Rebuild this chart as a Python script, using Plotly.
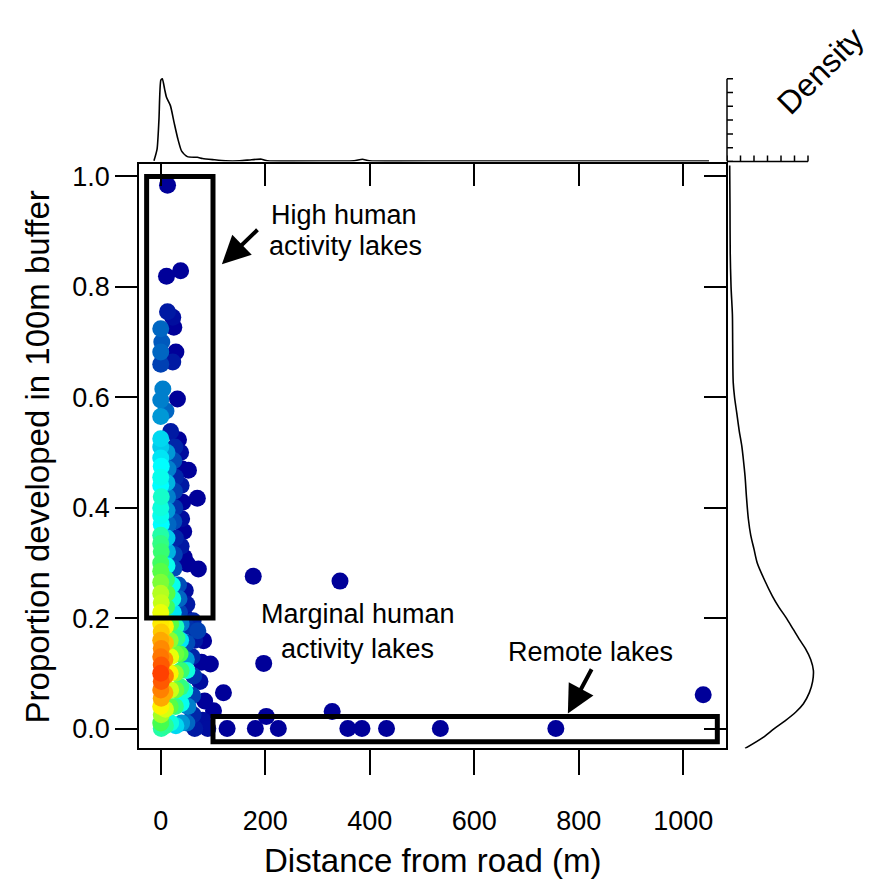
import numpy as np
import plotly.graph_objects as go

# ---------------- data ----------------
# main scatter: distance from road (m), proportion developed, colour density level (0..1)
dist_m = [
    13, 11, 38, 13, 23, 25, 0, 2, 0, 29, 23, 0, 4, 32, 0, 0, 10, 19, 34, 0, 53, 70,
    0, 0, 1, 0, 0, 1, 0, 0, 1, 0, 0, 1, 0, 0,
    12, 14, 12, 13, 12, 14, 12, 13, 12,
    27, 25, 28, 26, 27, 25, 28, 26, 25,
    38, 41, 39, 42, 40, 44, 39, 45, 51, 72,
    0, 0, 1, 0, 11, 12, 11, 22, 23, 24, 34, 35, 36, 47, 50, 45,
    0, 1, 0, 1, 0, 1, 0, 1, 0, 1, 0, 1, 0, 1,
    9, 9, 8, 9, 8, 9, 9,
    19, 18, 19, 18, 19, 18, 19,
    29, 31, 29, 28, 29, 28, 29,
    39, 38, 37, 39, 38, 39, 40,
    49, 50, 49, 50, 46, 52, 50,
    62, 65, 60, 63, 61, 62, 65,
    71, 82, 78, 95, 75, 84, 80, 101, 120, 90,
    127, 181, 202, 225, 328, 358, 385, 432, 535, 756, 1038, 177, 343, 197,
]
prop_dev = [
    0.984, 0.819, 0.829, 0.755, 0.745, 0.727, 0.724, 0.700, 0.682, 0.682, 0.664, 0.660, 0.615, 0.597, 0.595, 0.565, 0.575, 0.538, 0.523, 0.525, 0.468, 0.417,
    0.510, 0.490, 0.475, 0.455, 0.440, 0.420, 0.400, 0.385, 0.370, 0.350, 0.335, 0.320, 0.300, 0.285,
    0.500, 0.470, 0.445, 0.420, 0.395, 0.370, 0.345, 0.320, 0.295,
    0.510, 0.485, 0.455, 0.430, 0.400, 0.375, 0.345, 0.315, 0.290,
    0.500, 0.470, 0.440, 0.410, 0.380, 0.357, 0.330, 0.310, 0.298, 0.289,
    0.265, 0.245, 0.228, 0.210, 0.270, 0.245, 0.220, 0.260, 0.235, 0.210, 0.260, 0.235, 0.210, 0.250, 0.225, 0.205,
    0.190, 0.175, 0.160, 0.145, 0.130, 0.115, 0.100, 0.085, 0.070, 0.055, 0.040, 0.025, 0.010, 0.000,
    0.185, 0.155, 0.125, 0.095, 0.065, 0.035, 0.005,
    0.190, 0.160, 0.130, 0.100, 0.070, 0.040, 0.010,
    0.185, 0.164, 0.135, 0.100, 0.070, 0.040, 0.005,
    0.190, 0.160, 0.135, 0.105, 0.075, 0.045, 0.010,
    0.185, 0.155, 0.125, 0.105, 0.069, 0.040, 0.010,
    0.195, 0.160, 0.130, 0.095, 0.060, 0.025, 0.000,
    0.177, 0.159, 0.120, 0.117, 0.085, 0.050, 0.015, 0.032, 0.065, 0.000,
    0.000, 0.000, 0.022, 0.000, 0.031, 0.000, 0.000, 0.000, 0.000, 0.000, 0.061, 0.276, 0.267, 0.118,
]
dens_level = [
    0.0, 0.0, 0.0, 0.02, 0.01, 0.0, 0.08, 0.07, 0.08, 0.0, 0.02, 0.05, 0.10, 0.0, 0.10, 0.12, 0.08, 0.02, 0.0, 0.17, 0.0, 0.0,
    0.16, 0.18, 0.20, 0.22, 0.20, 0.26, 0.24, 0.22, 0.20, 0.30, 0.34, 0.36, 0.38, 0.42,
    0.12, 0.10, 0.14, 0.10, 0.12, 0.08, 0.16, 0.14, 0.22,
    0.03, 0.06, 0.03, 0.05, 0.04, 0.06, 0.03, 0.05, 0.06,
    0.01, 0.0, 0.02, 0.0, 0.01, 0.0, 0.02, 0.0, 0.0, 0.0,
    0.46, 0.52, 0.54, 0.58, 0.36, 0.42, 0.38, 0.22, 0.24, 0.18, 0.06, 0.08, 0.05, 0.01, 0.02, 0.01,
    0.64, 0.70, 0.76, 0.82, 0.86, 0.92, 0.97, 0.92, 0.84, 0.76, 0.62, 0.50, 0.40, 0.30,
    0.62, 0.72, 0.80, 0.84, 0.76, 0.56, 0.32,
    0.42, 0.48, 0.58, 0.62, 0.55, 0.42, 0.24,
    0.28, 0.34, 0.44, 0.48, 0.44, 0.34, 0.17,
    0.10, 0.18, 0.40, 0.36, 0.34, 0.22, 0.12,
    0.04, 0.06, 0.12, 0.24, 0.24, 0.10, 0.08,
    0.03, 0.02, 0.03, 0.04, 0.05, 0.03, 0.02,
    0.05, 0.0, 0.0, 0.0, 0.01, 0.0, 0.01, 0.0, 0.0, 0.01,
    0.0, 0.0, 0.0, 0.0, 0.0, 0.0, 0.0, 0.0, 0.0, 0.0, 0.0, 0.0, 0.0, 0.0,
]

# marginal density of distance (top panel)
top_x = [-13, -7, -3.4, 0.2, 3, 7.4, 11, 18.5, 25.7, 33, 40, 51, 70, 80, 102, 124, 151, 174, 193, 204,
         323, 370, 386, 399, 551, 742, 1049]
top_dens = [0.0001, 0.0018, 0.0061, 0.0118, 0.0120, 0.0105, 0.0093, 0.0081, 0.0056, 0.0032, 0.0015,
            0.0007, 0.0006, 0.00043, 0.00025, 0.0001, 0.0001, 0.00025, 0.00033, 0.0001,
            0.00007, 0.0001, 0.00033, 0.0001, 0.00007, 0.00007, 0.00007]

# marginal density of proportion developed (right panel)
right_y = [-0.036, -0.016, 0.0, 0.014, 0.03, 0.045, 0.065, 0.085, 0.105, 0.125, 0.145, 0.16, 0.18,
           0.2, 0.22, 0.24, 0.27, 0.3, 0.325, 0.35, 0.38, 0.42, 0.456, 0.49, 0.511, 0.54, 0.572,
           0.6, 0.627, 0.7, 0.75, 0.8, 0.86, 0.95, 1.02]
right_dens = [0.67, 1.34, 1.75, 2.15, 2.55, 2.83, 3.05, 3.17, 3.2, 3.1, 2.9, 2.7, 2.45,
              2.2, 1.92, 1.68, 1.38, 1.12, 1.0, 0.88, 0.79, 0.72, 0.67, 0.6, 0.55, 0.45, 0.36,
              0.28, 0.23, 0.21, 0.2, 0.15, 0.12, 0.11, 0.1]

x_ticks = [0, 200, 400, 600, 800, 1000]
y_ticks = [0.0, 0.2, 0.4, 0.6, 0.8, 1.0]
y_tick_text = ["0.0", "0.2", "0.4", "0.6", "0.8", "1.0"]
top_dens_ticks = [0, 0.002, 0.004, 0.006, 0.008, 0.010, 0.012]
right_dens_ticks = [0, 0.5, 1.0, 1.5, 2.0, 2.5, 3.0]

# ---------------- layout helpers ----------------
W, H = 876, 882
def px(v):
    return v / W
def py(v):
    return 1 - v / H

FONT = "Arial, Liberation Sans, sans-serif"
X_RANGE = [-41.6, 1081.6]
Y_RANGE = [-0.0361, 1.0217]
colorscale = [[0, "#000099"], [0.2, "#00FEFF"], [0.4, "#45FE4F"],
              [0.6, "#FCFF00"], [0.8, "#FF9400"], [1.0, "#FF3100"]]

order = np.argsort(np.array(dens_level), kind="stable")
xs = np.array(dist_m)[order]
ys = np.array(prop_dev)[order]
cs = np.array(dens_level)[order]

fig = go.Figure()
fig.add_trace(go.Scatter(
    x=xs, y=ys, mode="markers", xaxis="x", yaxis="y",
    marker=dict(size=17, color=cs, colorscale=colorscale, cmin=0, cmax=1, line=dict(width=0)),
    hoverinfo="skip", showlegend=False))
fig.add_trace(go.Scatter(x=[], y=[], xaxis="x4", yaxis="y4", showlegend=False))
fig.add_trace(go.Scatter(
    x=top_x, y=top_dens, mode="lines", xaxis="x2", yaxis="y2",
    line=dict(color="black", width=1.6, shape="spline", smoothing=0.6), showlegend=False))
fig.add_trace(go.Scatter(
    x=right_dens, y=right_y, mode="lines", xaxis="x3", yaxis="y3",
    line=dict(color="black", width=1.6, shape="spline", smoothing=0.8), showlegend=False))

axis_common = dict(showgrid=False, zeroline=False, linecolor="black", linewidth=1.5,
                   tickcolor="black", tickwidth=1.5)

fig.update_layout(
    width=W, height=H, margin=dict(l=0, r=0, t=0, b=0),
    paper_bgcolor="white", plot_bgcolor="white",
    font=dict(family=FONT, color="black", size=27),
    showlegend=False,
    xaxis=dict(domain=[px(139), px(726)], range=X_RANGE, anchor="y", showline=True,
               ticks="outside", ticklen=25, tickvals=x_ticks, ticktext=[str(v) for v in x_ticks],
               tickfont=dict(size=27), ticklabelstandoff=22, **axis_common),
    yaxis=dict(domain=[py(748), py(162)], range=Y_RANGE, anchor="x", showline=True,
               ticks="outside", ticklen=22, tickvals=y_ticks, ticktext=y_tick_text,
               tickfont=dict(size=27), **axis_common),
    xaxis4=dict(overlaying="x", side="top", anchor="y", range=X_RANGE, showline=True,
                ticks="inside", ticklen=22, tickvals=x_ticks, showticklabels=False, **axis_common),
    yaxis4=dict(overlaying="y", side="right", anchor="x", range=Y_RANGE, showline=True,
                ticks="inside", ticklen=22, tickvals=y_ticks, showticklabels=False, **axis_common),
    xaxis2=dict(domain=[px(139), px(726)], range=X_RANGE, anchor="y2", visible=False),
    yaxis2=dict(domain=[py(159), py(68)], range=[0, 0.012 * 91 / 83], anchor="x2", visible=False),
    xaxis3=dict(domain=[px(727), 1.0], range=[0, 149 / 27], anchor="y3", visible=False),
    yaxis3=dict(domain=[py(748), py(162)], range=Y_RANGE, anchor="x3", visible=False),
)

shapes = []
# group boxes
shapes.append(dict(type="rect", xref="x", yref="y", x0=-27, x1=100, y0=0.2, y1=1.0,
                   line=dict(color="black", width=5)))
shapes.append(dict(type="rect", xref="x", yref="y", x0=100, x1=1065, y0=-0.024, y1=0.022,
                   line=dict(color="black", width=5)))
# density axis of the top panel (vertical, ticks to the right)
shapes.append(dict(type="line", xref="paper", yref="y2", x0=px(727), x1=px(727),
                   y0=top_dens_ticks[0], y1=top_dens_ticks[-1], line=dict(color="black", width=1.5)))
for t in top_dens_ticks:
    shapes.append(dict(type="line", xref="paper", yref="y2", x0=px(727), x1=px(733),
                       y0=t, y1=t, line=dict(color="black", width=1.5)))
# density axis of the right panel (horizontal, ticks upward)
shapes.append(dict(type="line", xref="x3", yref="paper", x0=right_dens_ticks[0], x1=right_dens_ticks[-1],
                   y0=py(159), y1=py(159), line=dict(color="black", width=1.5)))
for t in right_dens_ticks:
    shapes.append(dict(type="line", xref="x3", yref="paper", x0=t, x1=t,
                       y0=py(159), y1=py(153), line=dict(color="black", width=1.5)))
fig.update_layout(shapes=shapes)

ann = []
ann.append(dict(xref="x", yref="y", x=117, y=0.841, ax=188, ay=0.906, axref="x", ayref="y",
                text="", showarrow=True, arrowhead=2, arrowsize=1.4, arrowwidth=4, arrowcolor="black"))
ann.append(dict(xref="x", yref="y", x=779, y=0.027, ax=826, ay=0.110, axref="x", ayref="y",
                text="", showarrow=True, arrowhead=2, arrowsize=1.4, arrowwidth=4, arrowcolor="black"))
def label(x, y, t, size=27, angle=0, ref="x"):
    return dict(xref=ref, yref=("y" if ref == "x" else "paper"), x=x, y=y, text=t, showarrow=False,
                xanchor="center", yanchor="middle", textangle=angle,
                font=dict(size=size, family=FONT, color="black"))
ann.append(label(351, 0.931, "High human"))
ann.append(label(353, 0.874, "activity lakes"))
ann.append(label(377, 0.2076, "Marginal human"))
ann.append(label(377, 0.144, "activity lakes"))
ann.append(label(822, 0.139, "Remote lakes"))
ann.append(label(px(432.5), py(860), "Distance from road (m)", size=33, ref="paper"))
ann.append(label(px(37), py(456), "Proportion developed in 100m buffer", size=33, angle=-90, ref="paper"))
ann.append(label(px(820), py(68), "Density", size=32, angle=-45, ref="paper"))
fig.update_layout(annotations=ann)

fig.write_html("out.html")
